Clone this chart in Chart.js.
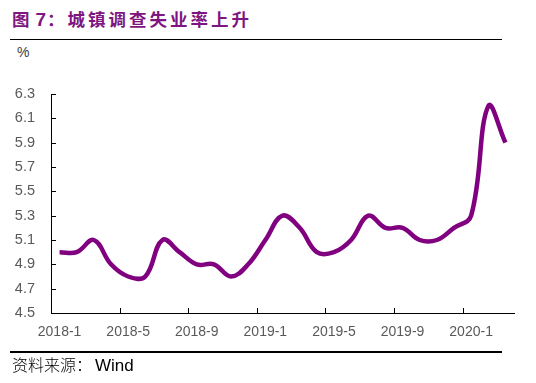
<!DOCTYPE html>
<html>
<head>
<meta charset="utf-8">
<script src="https://cdn.jsdelivr.net/npm/chart.js@4/dist/chart.umd.min.js"></script>
<style>
  html, body { margin: 0; padding: 0; background: #fff; }
  #wrap { position: relative; width: 536px; height: 383px; overflow: hidden; }
  #chart { position: absolute; left: 0; top: 0; }
  .title { position: absolute; left: 12px; top: 7px; font-family: "Noto Sans CJK SC", sans-serif; font-weight: 700; font-size: 17.5px; letter-spacing: 3px; color: #7E1580; line-height: 24px; white-space: nowrap; }
  .title .num { font-family: "Liberation Sans", Arial, sans-serif; font-size: 19px; margin-left: 3px; letter-spacing: 1px; }
  .rule { position: absolute; left: 10px; width: 492px; height: 1.5px; background: #000; }
  .unit { position: absolute; left: 17px; top: 44px; font-family: "Liberation Sans", Arial, sans-serif; font-size: 14px; color: #404040; }
  .source { position: absolute; left: 12px; top: 353px; font-size: 16px; color: #000; white-space: nowrap; line-height: 22px; }
  .source .cjk { font-family: "Noto Sans CJK SC", sans-serif; font-size: 16px; font-weight: 300; }
  .source .lat { font-family: "Liberation Sans", Arial, sans-serif; font-size: 17px; margin-left: 3px; }
</style>
</head>
<body>
<div id="wrap">
  <div class="title">图<span class="num">7</span>：城镇调查失业率上升</div>
  <div class="rule" style="top:38.5px"></div>
  <div class="unit">%</div>
  <canvas id="chart" width="536" height="383"></canvas>
  <div class="rule" style="top:351px"></div>
  <div class="source"><span class="cjk">资料来源：</span><span class="lat">Wind</span></div>
</div>
<script>
// ---- data ----
const categories = [
  '2018-1','2018-2','2018-3','2018-4','2018-5','2018-6','2018-7','2018-8','2018-9','2018-10','2018-11','2018-12',
  '2019-1','2019-2','2019-3','2019-4','2019-5','2019-6','2019-7','2019-8','2019-9','2019-10','2019-11','2019-12',
  '2020-1','2020-2','2020-3'
];
const unemploymentRate = [
  5.0, 5.0, 5.1, 4.9, 4.8, 4.8, 5.1, 5.0, 4.9, 4.9, 4.8, 4.9,
  5.1, 5.3, 5.2, 5.0, 5.0, 5.1, 5.3, 5.2, 5.2, 5.1, 5.1, 5.2,
  5.3, 6.2, 5.9
];
const yMin = 4.5;
const yMax = 6.3;
const yStep = 0.2;
const labelEvery = 4;

// inward tick marks (drawn from the library's scales)
const innerTicks = {
  id: 'innerTicks',
  afterDraw(chart) {
    const { ctx, chartArea, scales } = chart;
    const x = scales.x, y = scales.y;
    ctx.save();
    ctx.strokeStyle = '#000';
    ctx.lineWidth = 1;
    ctx.beginPath();
    y.ticks.forEach((t, i) => {
      const py = Math.round(y.getPixelForTick(i)) + 0.5;
      ctx.moveTo(chartArea.left, py);
      ctx.lineTo(chartArea.left + 5, py);
    });
    for (let i = labelEvery; i < categories.length; i += labelEvery) {
      const px = Math.round((x.getPixelForValue(i) + x.getPixelForValue(i - 1)) / 2) + 0.5;
      ctx.moveTo(px, chartArea.bottom);
      ctx.lineTo(px, chartArea.bottom - 5);
    }
    ctx.stroke();
    ctx.restore();
  }
};

new Chart(document.getElementById('chart'), {
  type: 'line',
  data: {
    labels: categories,
    datasets: [{
      data: unemploymentRate,
      borderColor: '#800080',
      borderWidth: 4.5,
      pointRadius: 0,
      tension: 0.4,
      fill: false
    }]
  },
  options: {
    responsive: false,
    animation: false,
    devicePixelRatio: 1,
    layout: { padding: { top: 94, right: 22, left: 0, bottom: 0 } },
    plugins: { legend: { display: false }, tooltip: { enabled: false }, title: { display: false } },
    scales: {
      x: {
        type: 'category',
        offset: true,
        grid: { display: false, drawTicks: false },
        border: { display: true, color: '#000', width: 1 },
        afterFit(scale) { scale.height = 70; },
        ticks: {
          autoSkip: false,
          maxRotation: 0,
          padding: 11,
          color: '#595959',
          font: { family: '"Liberation Sans", Arial, sans-serif', size: 14 },
          callback(v, i) { return i % labelEvery === 0 ? categories[i] : ''; }
        }
      },
      y: {
        min: yMin,
        max: yMax,
        grid: { display: false, drawTicks: false },
        border: { display: true, color: '#000', width: 1 },
        afterFit(scale) { scale.width = 51; },
        ticks: {
          stepSize: yStep,
          padding: 16,
          color: '#595959',
          font: { family: '"Liberation Sans", Arial, sans-serif', size: 14.5 },
          callback(v) { return Number(v).toFixed(1); }
        }
      }
    }
  },
  plugins: [innerTicks]
});
</script>
</body>
</html>
